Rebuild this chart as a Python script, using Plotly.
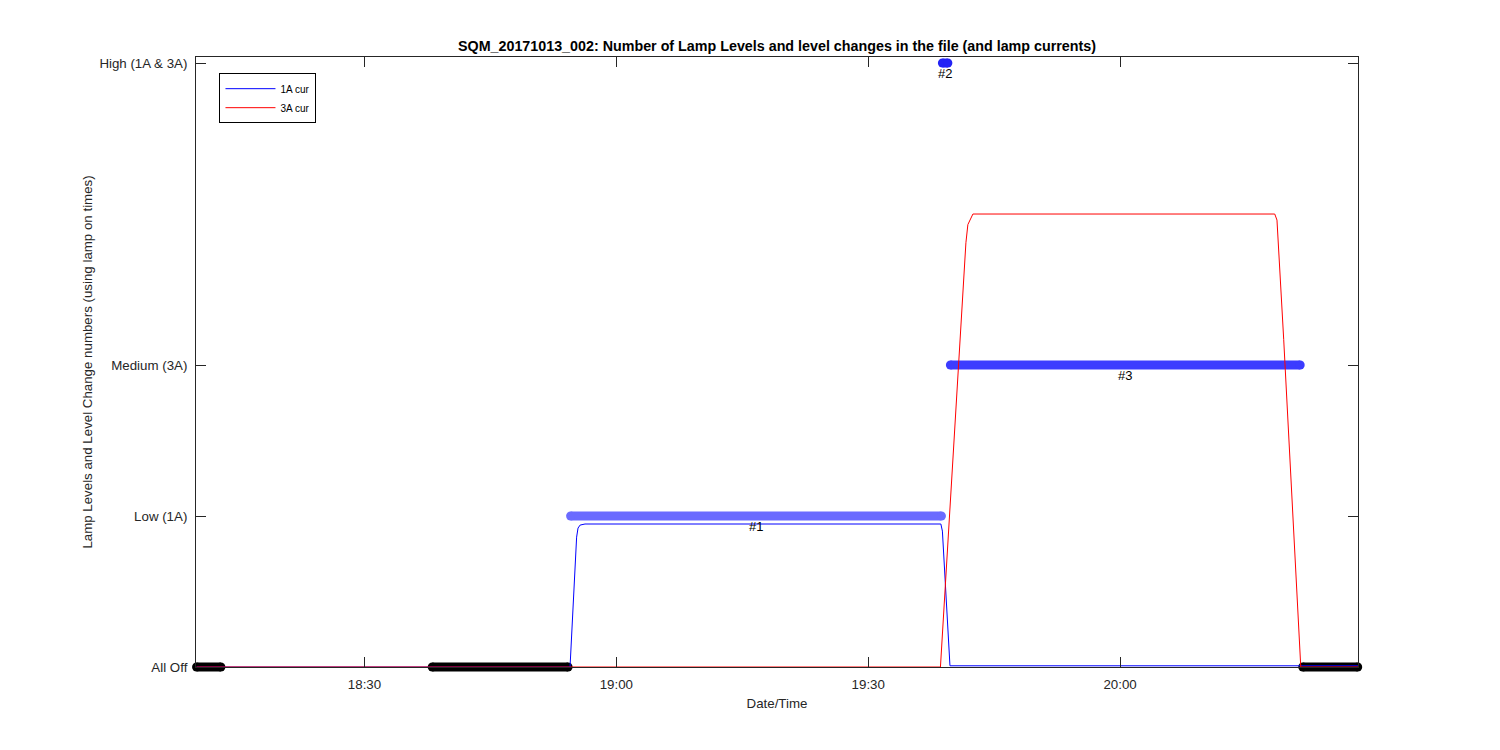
import plotly.graph_objects as go

DAY = "2017-10-13 "

# Lamp currents (in level units)
cur1A_times = ["18:10:00", "18:54:29", "18:55:16", "18:55:26", "18:55:41", "18:56:16",
               "19:38:39", "19:38:50", "19:39:44", "20:28:20"]
cur1A_values = [0, 0, 0.86, 0.92, 0.94, 0.947, 0.947, 0.90, 0.008, 0.008]

cur3A_times = ["18:10:00", "19:38:36", "19:41:38", "19:41:52", "19:42:28",
               "20:18:25", "20:18:41", "20:19:29", "20:21:31", "20:28:20"]
cur3A_values = [0, 0, 2.81, 2.93, 3.0, 3.0, 2.96, 2.17, 0, 0]

# Lamp level segments (using lamp on times)
seg_start = ["18:10:00", "18:38:04", "18:54:33", "19:38:50", "19:39:47", "20:21:45"]
seg_end = ["18:12:54", "18:54:15", "19:38:43", "19:39:29", "20:21:27", "20:28:18"]
seg_level = [0, 0, 1, 4, 2, 0]

# Level change labels
change_labels = ["#1", "#2", "#3"]
change_times = ["19:16:38", "19:39:10", "20:00:37"]
change_levels = [1, 4, 2]

# Axis ticks
x_ticks = ["18:30", "19:00", "19:30", "20:00"]
y_tickvals = [0, 1, 2, 4]
y_ticktext = ["All Off", "Low (1A)", "Medium (3A)", "High (1A & 3A)"]
x_range = ["18:09:56", "20:28:20"]
y_max = 4.04

level_colors = {0: "#000000", 1: "#6b6bff", 2: "#3c3cff", 4: "#2323f5"}

FONT = "Liberation Sans, Arial, Helvetica, sans-serif"
AX = "#262626"

# layout geometry (pixels)
W, H = 1500, 750
ML, MR, MT = 196, 142, 57
AXIS_BOTTOM = 667          # pixel row of the visible x axis
EXT = 12                   # extra pixels below axis for the thick level bands
MB = H - AXIS_BOTTOM - EXT
plot_h = H - MT - MB
main_dom0 = EXT / plot_h
px_per_unit = (AXIS_BOTTOM - MT) / y_max
band_ymin = -EXT / px_per_unit

fig = go.Figure()

# level bands on the (invisible) extended axes x/y, drawn first (below)
for s, e, lv in zip(seg_start, seg_end, seg_level):
    c = level_colors[lv]
    fig.add_trace(go.Scatter(
        x=[DAY + s, DAY + e], y=[lv, lv], mode="lines+markers",
        line=dict(color=c, width=9), marker=dict(color=c, size=9),
        cliponaxis=False, showlegend=False, hoverinfo="skip",
        xaxis="x", yaxis="y"))

# currents on the visible axes x2/y2 (on top)
fig.add_trace(go.Scatter(
    x=[DAY + t for t in cur1A_times], y=cur1A_values, mode="lines",
    name="1A cur", line=dict(color="#0000ff", width=1), cliponaxis=False,
    xaxis="x2", yaxis="y2"))
fig.add_trace(go.Scatter(
    x=[DAY + t for t in cur3A_times], y=cur3A_values, mode="lines",
    name="3A cur", line=dict(color="#ff0000", width=1), cliponaxis=False,
    xaxis="x2", yaxis="y2"))

for lab, t, lv in zip(change_labels, change_times, change_levels):
    fig.add_annotation(x=DAY + t, y=lv, xref="x2", yref="y2", text=lab, showarrow=False,
                       yanchor="top", xanchor="center", yshift=-1,
                       font=dict(family=FONT, size=13, color="#000000"))

fig.update_layout(
    width=W, height=H,
    paper_bgcolor="white", plot_bgcolor="rgba(0,0,0,0)",
    margin=dict(l=ML, r=MR, t=MT, b=MB, autoexpand=False),
    font=dict(family=FONT, size=13, color=AX),
    title=dict(text="<b>SQM_20171013_002: Number of Lamp Levels and level changes in the file (and lamp currents)</b>",
               x=(ML + W - MR) / 2 / W, xanchor="center",
               y=1 - 46 / H, yanchor="middle", yref="container",
               font=dict(family=FONT, size=14.3, color="#000000")),
    legend=dict(x=0.0202, y=0.974, xanchor="left", yanchor="top",
                bgcolor="white", bordercolor="#000000", borderwidth=1,
                font=dict(family=FONT, size=10, color="#000000"),
                tracegroupgap=0, itemwidth=50),
    showlegend=True,
    xaxis=dict(domain=[0, 1], range=[DAY + x_range[0], DAY + x_range[1]],
               visible=False, fixedrange=True),
    yaxis=dict(domain=[0, 1], range=[band_ymin, y_max], visible=False, fixedrange=True),
    xaxis2=dict(
        domain=[0, 1], anchor="y2",
        range=[DAY + x_range[0], DAY + x_range[1]],
        tickvals=[DAY + t for t in x_ticks], ticktext=x_ticks,
        ticks="inside", ticklen=10, tickcolor=AX, tickwidth=1,
        showline=True, linecolor=AX, linewidth=1, mirror="allticks",
        showgrid=False, zeroline=False, automargin=False, ticklabelstandoff=5,
        tickfont=dict(family=FONT, size=13.3, color=AX),
        title=dict(text="Date/Time", font=dict(family=FONT, size=13.3, color=AX), standoff=7),
    ),
    yaxis2=dict(
        domain=[main_dom0, 1], anchor="x2",
        range=[0, y_max],
        tickvals=y_tickvals, ticktext=y_ticktext,
        ticks="inside", ticklen=10, tickcolor=AX, tickwidth=1,
        showline=True, linecolor=AX, linewidth=1, mirror="allticks",
        showgrid=False, zeroline=False, automargin=False, ticklabelstandoff=5,
        tickfont=dict(family=FONT, size=13.3, color=AX),
        title=dict(text="Lamp Levels and Level Change numbers (using lamp on times)",
                   font=dict(family=FONT, size=13.3, color=AX), standoff=3),
    ),
)

fig.write_html("out.html", config={"displayModeBar": False},
               post_script="document.body.style.margin='0';")
